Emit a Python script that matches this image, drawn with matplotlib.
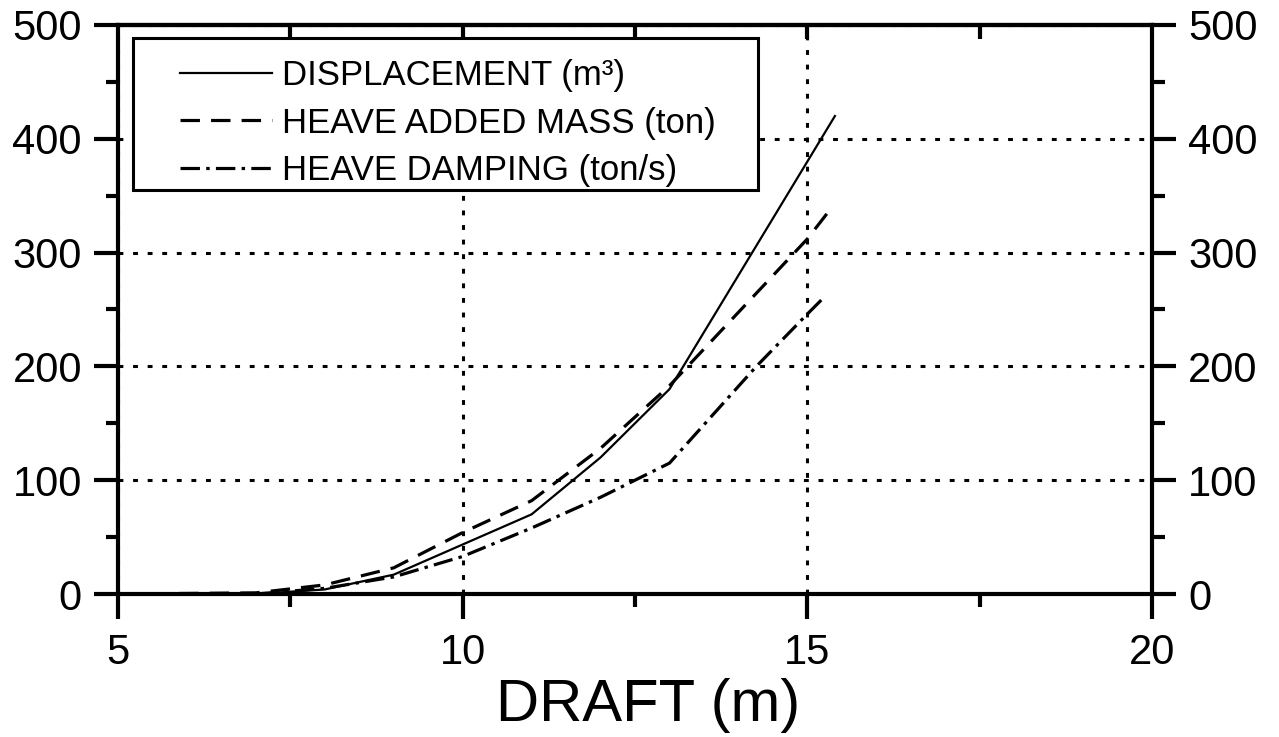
import matplotlib
matplotlib.use("Agg")
import matplotlib.pyplot as plt
from matplotlib.patches import Rectangle
from matplotlib.ticker import MultipleLocator

plt.rcParams['font.family'] = ['Liberation Sans', 'DejaVu Sans']
plt.rcParams['lines.scale_dashes'] = False

# Data
draft_disp = [5, 7, 8, 9, 11, 12, 13, 15.4]
displacement = [0, 0, 4, 17, 70, 120, 180, 420]

draft_mass = [5, 7, 8, 9, 10, 11, 12, 13, 15, 15.32]
added_mass = [0, 1, 8, 23, 54, 82, 128, 183, 312, 337]

draft_damp = [5, 7, 8, 9, 10, 11, 12, 13, 14.26, 15, 15.23]
damping = [0, 0, 5, 15, 33, 58, 85, 115, 200, 246, 260]

labels = ["DISPLACEMENT (m³)", "HEAVE ADDED MASS (ton)", "HEAVE DAMPING (ton/s)"]
x_ticks = [5, 10, 15, 20]
y_ticks = [0, 100, 200, 300, 400, 500]

W, H = 1279, 737
fig = plt.figure(figsize=(W / 100, H / 100), dpi=100)
L, R, T, B = 118, 1152, 25, 594
ax = fig.add_axes([L / W, 1 - B / H, (R - L) / W, (B - T) / H])

ax.set_xlim(5, 20)
ax.set_ylim(0, 500)
ax.set_xticks(x_ticks)
ax.set_yticks(y_ticks)
ax.xaxis.set_minor_locator(MultipleLocator(2.5))
ax.yaxis.set_minor_locator(MultipleLocator(50))

for s in ax.spines.values():
    s.set_linewidth(3)

ax.tick_params(axis='x', which='major', direction='out', length=18, width=3,
               labelsize=30, pad=10, top=False)
ax.tick_params(axis='x', which='minor', direction='out', length=9, width=3, top=False)
ax.tick_params(axis='y', which='major', direction='out', length=17, width=3,
               labelsize=30, pad=9, left=True, right=True, labelright=True)
ax.tick_params(axis='y', which='minor', direction='out', length=9, width=3,
               left=True, right=True)

top = ax.secondary_xaxis('top')
top.set_xticks([7.5, 10, 12.5, 15, 17.5])
top.tick_params(direction='in', length=10, width=3, labeltop=False)
top.spines['top'].set_linewidth(3)

ax.grid(True, which='major', color='black', linewidth=2.2, linestyle=(0, (3.5, 7)))
ax.set_axisbelow(True)

ax.plot(draft_disp, displacement, color='black', lw=1.6, solid_joinstyle='miter',
        label=labels[0], zorder=3)
ax.plot(draft_mass, added_mass, color='black', lw=2.3, dashes=(14, 8),
        label=labels[1], zorder=3)
ax.plot(draft_damp, damping, color='black', lw=2.3, dashes=(14, 4.5, 2.5, 4.5),
        label=labels[2], zorder=3)

ax.set_xlabel("DRAFT (m)", fontsize=43, labelpad=4)
ax.xaxis.label.set_x((648 - L) / (R - L))

# legend frame
bx0 = (133 - L) / (R - L)
bx1 = (758 - L) / (R - L)
by1 = (B - 38) / (B - T)
by0 = (B - 190) / (B - T)
ax.add_patch(Rectangle((bx0, by0), bx1 - bx0, by1 - by0, transform=ax.transAxes,
                       facecolor='white', edgecolor='black', linewidth=2.2, zorder=4))
leg = ax.legend(loc='upper left', bbox_to_anchor=((180 - L) / (R - L), (B - 59) / (B - T)),
                frameon=False, fontsize=25, handlelength=2.65, handletextpad=0.3,
                labelspacing=0.42, borderpad=0, borderaxespad=0)
leg.set_zorder(5)

fig.savefig("out.png", dpi=100)
